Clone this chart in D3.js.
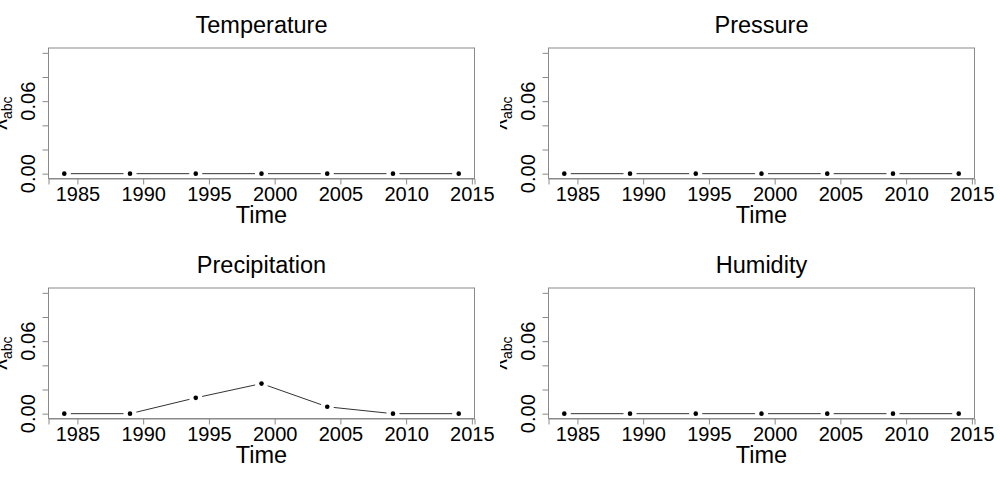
<!DOCTYPE html>
<html><head><meta charset="utf-8">
<script src="https://cdn.jsdelivr.net/npm/d3@7"></script>
<style>
body{margin:0;background:#fff;}
svg{display:block;font-family:"Liberation Sans",Arial,sans-serif;}
</style></head>
<body>
<svg id="c" width="1000" height="480"></svg>
<script>
// ---- data ----
const years = [1984, 1989, 1994, 1999, 2004, 2009, 2014];
const panelTitles = ["Temperature", "Pressure", "Precipitation", "Humidity"];
const temperature = [0, 0, 0, 0, 0, 0, 0];
const pressure = [0, 0, 0, 0, 0, 0, 0];
const precipitation = [0, 0, 0.0131, 0.0249, 0.0057, 0, 0];
const humidity = [0, 0, 0, 0, 0, 0, 0];
const xTicks = [1985, 1990, 1995, 2000, 2005, 2010, 2015];
const yTicks = [0, 0.02, 0.04, 0.06, 0.08, 0.10];
const yTickLabels = {0: "0.00", 0.06: "0.06"};
const xLabel = "Time";
const yLabelMain = "λ";
const yLabelSub = "abc";

const seriesList = [temperature, pressure, precipitation, humidity];

const svg = d3.select("#c");
const boxL = 48.5, boxR = 474.5, boxT = 48, boxB = 178.5;
const x = d3.scaleLinear().domain([1982.8, 2015.2]).range([boxL, boxR]);
const y = d3.scaleLinear().domain([-0.004, 0.104]).range([boxB, boxT]);
const gray = "#8a8a8a";
const fontMain = 23.5, fontTick = 20;

const defs = svg.append("defs");

seriesList.forEach((vals, i) => {
  const ox = (i % 2) * 500, oy = Math.floor(i / 2) * 240;
  defs.append("clipPath").attr("id", "clip" + i)
    .append("rect").attr("x", 0).attr("y", 0).attr("width", 500).attr("height", 240);
  const g = svg.append("g").attr("transform", `translate(${ox},${oy})`)
    .attr("clip-path", `url(#clip${i})`);

  // box
  g.append("rect").attr("x", boxL).attr("y", boxT)
    .attr("width", boxR - boxL).attr("height", boxB - boxT)
    .attr("fill", "none").attr("stroke", gray).attr("stroke-width", 1);

  // x axis
  const xa = g.append("g").attr("transform", `translate(0,${boxB})`)
    .call(d3.axisBottom(x).tickValues(xTicks).tickSize(6).tickPadding(2).tickFormat(d3.format("d")));
  xa.select(".domain").attr("stroke", gray);
  xa.selectAll(".tick line").attr("stroke", gray);
  xa.selectAll(".tick text").attr("font-size", fontTick).attr("fill", "#000")
    .attr("font-family", "Liberation Sans, Arial, sans-serif").attr("dy", "0.72em");

  // y axis
  const ya = g.append("g").attr("transform", `translate(${boxL},0)`)
    .call(d3.axisLeft(y).tickValues(yTicks).tickSize(6).tickFormat(""));
  ya.select(".domain").remove();
  ya.selectAll(".tick line").attr("stroke", gray);
  Object.keys(yTickLabels).forEach(k => {
    const v = +k;
    g.append("text").attr("transform", `translate(34.5,${y(v)}) rotate(-90)`)
      .attr("text-anchor", "middle").attr("font-size", fontTick).attr("fill", "#000")
      .text(yTickLabels[k]);
  });

  // title
  g.append("text").attr("x", (boxL + boxR) / 2).attr("y", 33)
    .attr("text-anchor", "middle").attr("font-size", fontMain).attr("fill", "#000")
    .text(panelTitles[i]);

  // x label
  g.append("text").attr("x", (boxL + boxR) / 2).attr("y", 222.5)
    .attr("text-anchor", "middle").attr("font-size", fontMain).attr("fill", "#000")
    .text(xLabel);

  // y label
  const yl = g.append("text").attr("transform", `translate(7,${(boxT + boxB) / 2}) rotate(-90)`)
    .attr("text-anchor", "middle").attr("fill", "#000");
  yl.append("tspan").attr("font-size", 22).text(yLabelMain);
  yl.append("tspan").attr("font-size", 14).attr("dy", 5).text(yLabelSub);

  // lines with gaps (type = "b")
  const pts = years.map((yr, j) => [x(yr), y(vals[j])]);
  const gap = 6.5;
  for (let j = 0; j < pts.length - 1; j++) {
    const [x1, y1] = pts[j], [x2, y2] = pts[j + 1];
    const dx = x2 - x1, dy = y2 - y1, len = Math.hypot(dx, dy);
    if (len <= 2 * gap) continue;
    const ux = dx / len, uy = dy / len;
    g.append("line")
      .attr("x1", x1 + ux * gap).attr("y1", y1 + uy * gap)
      .attr("x2", x2 - ux * gap).attr("y2", y2 - uy * gap)
      .attr("stroke", "#333").attr("stroke-width", 1);
  }
  g.selectAll("circle.pt").data(years).enter().append("circle")
    .attr("class", "pt")
    .attr("cx", d => x(d)).attr("cy", (d, j) => y(vals[j]))
    .attr("r", 2.3).attr("fill", "#000");
});
</script>
</body></html>
